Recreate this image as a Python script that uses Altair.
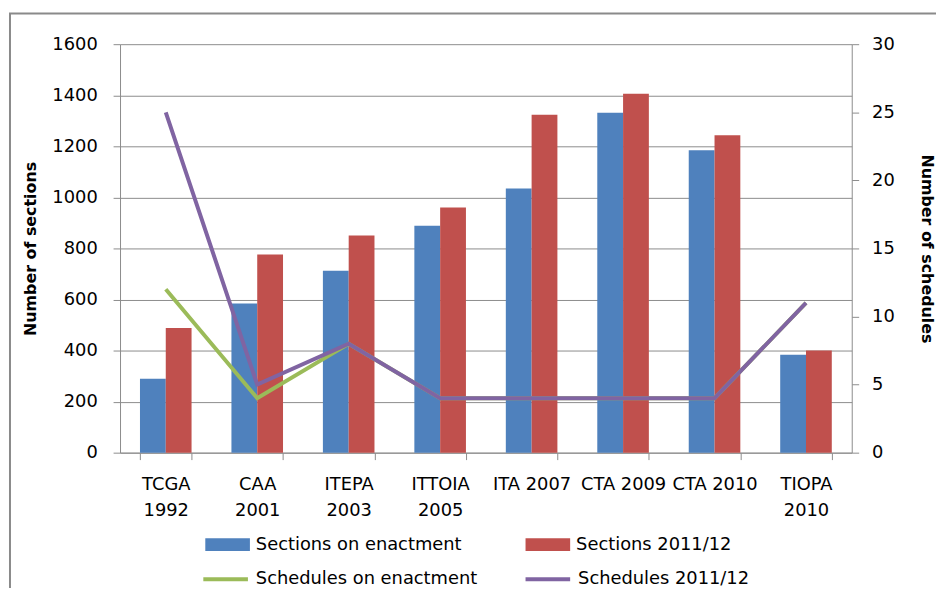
import altair as alt
import pandas as pd

categories = ["TCGA|1992", "CAA|2001", "ITEPA|2003", "ITTOIA|2005",
              "ITA 2007", "CTA 2009", "CTA 2010", "TIOPA|2010"]
bar_series = ["Sections on enactment", "Sections 2011/12"]
line_series = ["Schedules on enactment", "Schedules 2011/12"]

sections_on_enactment = [290, 584, 713, 889, 1035, 1331, 1185, 384]
sections_2011_12 = [488, 776, 851, 960, 1324, 1406, 1243, 400]
schedules_on_enactment = [12, 4, 8, 4, 4, 4, 4, 11]
schedules_2011_12 = [25, 5, 8, 4, 4, 4, 4, 11]

left_ticks = [0, 200, 400, 600, 800, 1000, 1200, 1400, 1600]
right_ticks = [0, 5, 10, 15, 20, 25, 30]

bar_df = pd.DataFrame({
    "category": categories * 2,
    "series": [bar_series[0]] * len(categories) + [bar_series[1]] * len(categories),
    "value": sections_on_enactment + sections_2011_12,
})
green_df = pd.DataFrame({"category": categories, "series": line_series[0],
                         "value": schedules_on_enactment})
purple_df = pd.DataFrame({"category": categories, "series": line_series[1],
                          "value": schedules_2011_12})

FONT = "DejaVu Sans"
GRID = "#8c8c8c"

x_enc = alt.X(
    "category:N", sort=categories, title=None,
    scale=alt.Scale(paddingInner=0.436, paddingOuter=0.218),
    axis=alt.Axis(labelExpr="split(datum.label, '|')", labelAngle=0,
                  tickBand="extent", tickSize=7, labelPadding=16,
                  labelLineHeight=26, labelFontSize=18, labelColor="#000",
                  domainColor=GRID, tickColor=GRID, grid=False),
)

bars = alt.Chart(bar_df).mark_bar().encode(
    x=x_enc,
    xOffset=alt.XOffset("series:N", sort=bar_series,
                        scale=alt.Scale(paddingInner=0, paddingOuter=0)),
    y=alt.Y("value:Q", title="Number of sections",
            scale=alt.Scale(domain=[0, 1600], nice=False),
            axis=alt.Axis(values=left_ticks, format="d", tickSize=7, labelPadding=16,
                          labelFontSize=18, labelColor="#000",
                          titleFontSize=16, titleFontWeight="bold",
                          titleColor="#000", titlePadding=13,
                          grid=True, gridColor=GRID, domainColor=GRID,
                          tickColor=GRID)),
    color=alt.Color("series:N", sort=bar_series,
                    scale=alt.Scale(domain=bar_series, range=["#4F81BD", "#C0504D"]),
                    legend=alt.Legend(title=None, orient="none", legendX=86, legendY=482,
                                      direction="horizontal", columns=2,
                                      columnPadding=64,
                                      symbolType="M-1,-0.29H1V0.29H-1Z",
                                      symbolSize=2025, symbolStrokeWidth=0,
                                      labelFontSize=18, labelColor="#000",
                                      labelOffset=6, labelLimit=400)),
)

y_right = alt.Y("value:Q", title="Number of schedules",
                scale=alt.Scale(domain=[0, 30], nice=False),
                axis=alt.Axis(orient="right", values=right_ticks, tickSize=7,
                              labelPadding=13, labelFontSize=18, labelColor="#000",
                              titleFontSize=16, titleFontWeight="bold",
                              titleColor="#000", titlePadding=24,
                              grid=False, domainColor=GRID, tickColor=GRID))

stroke_enc = alt.Stroke("series:N", sort=line_series,
                        scale=alt.Scale(domain=line_series, range=["#9BBB59", "#8064A2"]),
                        legend=alt.Legend(title=None, orient="none", legendX=82, legendY=515,
                                          direction="horizontal", columns=2,
                                          columnPadding=40, symbolType="stroke",
                                          symbolSize=2025, symbolStrokeWidth=4,
                                          labelFontSize=18, labelColor="#000",
                                          labelOffset=6, labelLimit=400))

green = alt.Chart(green_df).mark_line(strokeWidth=4).encode(
    x=alt.X("category:N", sort=categories), y=y_right, stroke=stroke_enc)
purple = alt.Chart(purple_df).mark_line(strokeWidth=4).encode(
    x=alt.X("category:N", sort=categories), y=y_right, stroke=stroke_enc)
lines = alt.layer(green, purple)

frame = alt.Chart(pd.DataFrame({"frame": [0]})).mark_rect(
    fill="transparent", stroke="#8a8a8a", strokeWidth=2
).encode(x=alt.value(-111), x2=alt.value(900), y=alt.value(-31), y2=alt.value(600))

chart = alt.layer(frame, bars, lines).resolve_scale(y="independent").properties(
    width=738, height=412, autosize="none",
    padding={"left": 113, "top": 34, "right": 85, "bottom": 134},
).configure(font=FONT).configure_view(strokeWidth=0)

chart.save("out.html", embed_options={"renderer": "svg", "actions": False})
